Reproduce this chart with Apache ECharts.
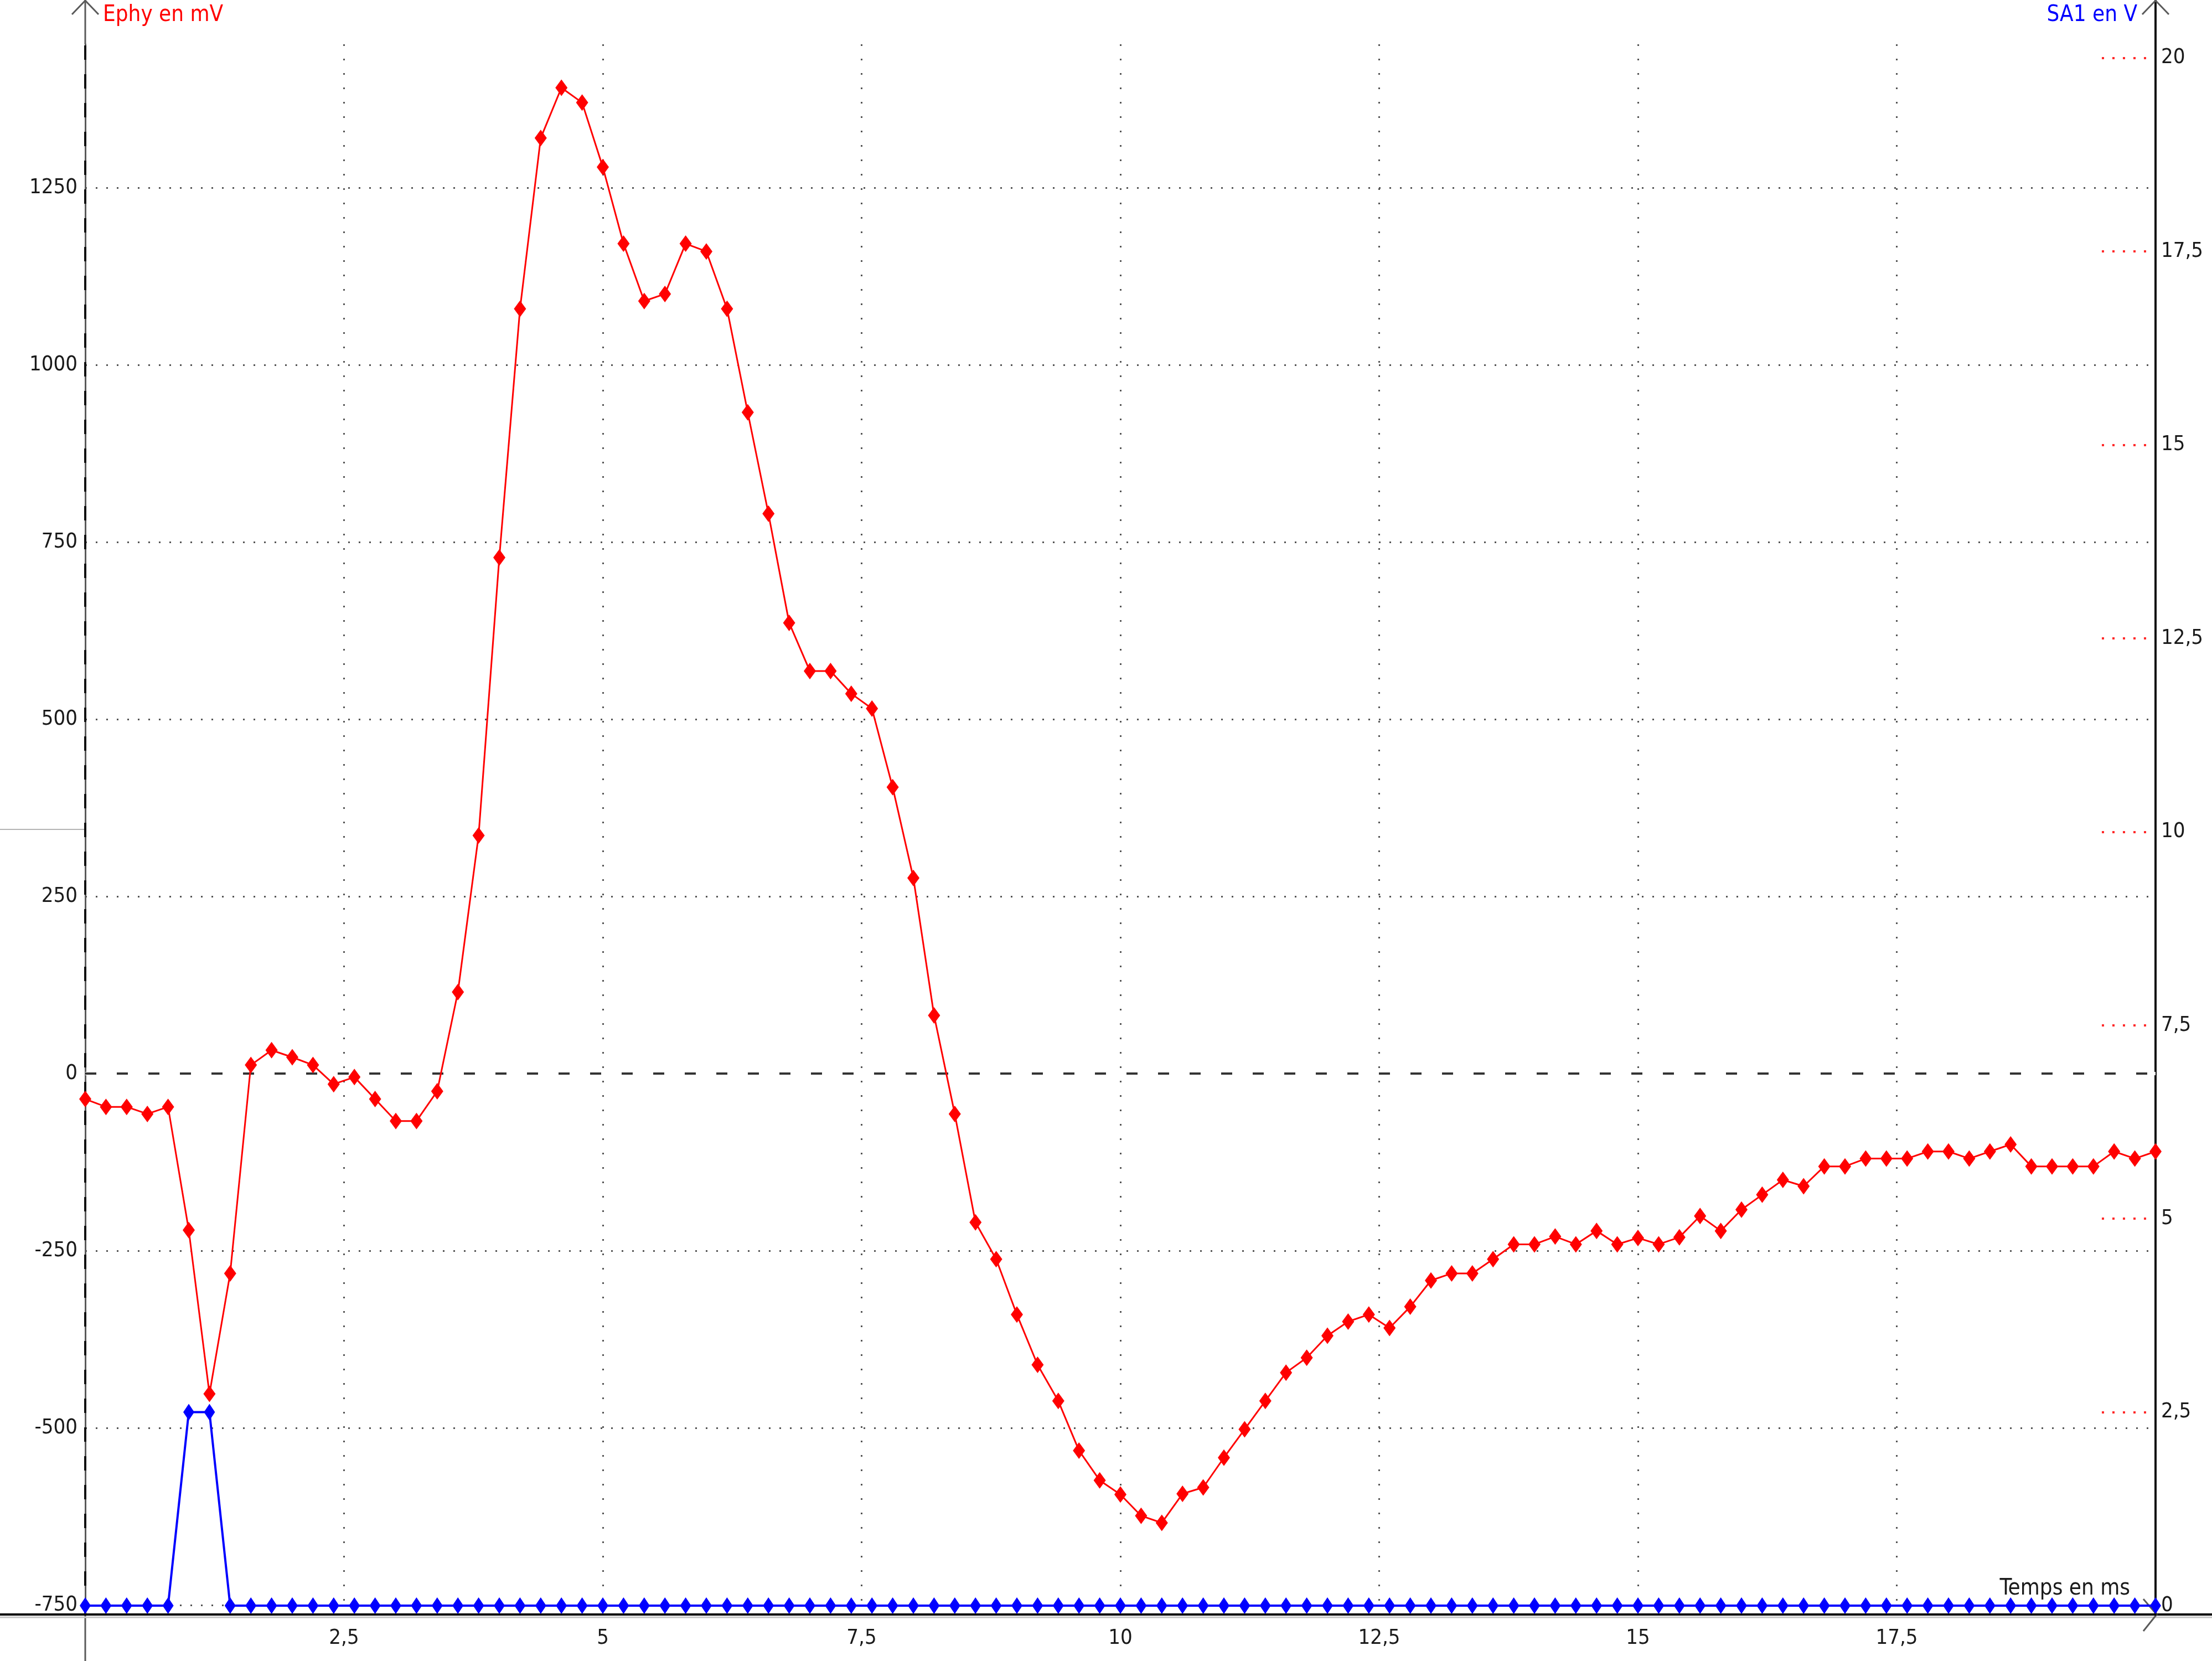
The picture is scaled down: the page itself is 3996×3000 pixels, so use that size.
<!DOCTYPE html>
<html>
<head>
<meta charset="utf-8">
<script src="https://cdn.jsdelivr.net/npm/echarts@6/dist/echarts.min.js"></script>
<style>
html,body{margin:0;padding:0;background:#fff;}
#chart{width:3996px;height:3000px;}
</style>
</head>
<body>
<div id="chart"></div>
<script>
// Time in ms (sampling 0.2 ms)
const times = [0,0.2,0.4,0.6,0.8,1,1.2,1.4,1.6,1.8,2,2.2,2.4,2.6,2.8,3,3.2,3.4,3.6,3.8,
  4,4.2,4.4,4.6,4.8,5,5.2,5.4,5.6,5.8,6,6.2,6.4,6.6,6.8,7,7.2,7.4,7.6,7.8,
  8,8.2,8.4,8.6,8.8,9,9.2,9.4,9.6,9.8,10,10.2,10.4,10.6,10.8,11,11.2,11.4,11.6,11.8,
  12,12.2,12.4,12.6,12.8,13,13.2,13.4,13.6,13.8,14,14.2,14.4,14.6,14.8,15,15.2,15.4,15.6,15.8,
  16,16.2,16.4,16.6,16.8,17,17.2,17.4,17.6,17.8,18,18.2,18.4,18.6,18.8,19,19.2,19.4,19.6,19.8,20];

// Ephy en mV
const ephy = [-36,-47,-47,-57,-47,-221,-452,-282,12,33,23,12,-15,-5,-36,-67,-67,-25,115,336,
  728,1079,1320,1391,1370,1279,1171,1090,1100,1171,1160,1079,933,790,636,568,568,536,515,404,
  276,82,-57,-210,-262,-340,-411,-462,-532,-574,-594,-624,-634,-593,-584,-542,-502,-462,-422,-401,
  -370,-350,-340,-359,-329,-292,-282,-282,-262,-241,-241,-230,-241,-222,-241,-232,-241,-231,-201,-222,
  -192,-171,-150,-159,-131,-131,-120,-120,-120,-110,-110,-120,-110,-100,-131,-131,-131,-131,-110,-120,-110];

// SA1 en V
const sa1 = [0,0,0,0,0,2.5,2.5,0,0,0,0,0,0,0,0,0,0,0,0,0,
  0,0,0,0,0,0,0,0,0,0,0,0,0,0,0,0,0,0,0,0,
  0,0,0,0,0,0,0,0,0,0,0,0,0,0,0,0,0,0,0,0,
  0,0,0,0,0,0,0,0,0,0,0,0,0,0,0,0,0,0,0,0,
  0,0,0,0,0,0,0,0,0,0,0,0,0,0,0,0,0,0,0,0,0];

const leftTicks = [-750,-500,-250,0,250,500,750,1000,1250];
const rightTicks = [0,2.5,5,7.5,10,12.5,15,17.5,20];
const xLabelTicks = [2.5,5,7.5,10,12.5,15,17.5];

const FONT = "'DejaVu Sans Condensed','DejaVu Sans',sans-serif";
const comma = v => String(v).replace('.', ',');
const plain = v => String(v);

const chart = echarts.init(document.getElementById('chart'), null, {renderer:'canvas'});

const option = {
  animation: false,
  backgroundColor: '#ffffff',
  textStyle: {fontFamily: FONT},
  title: [
    {text:'Ephy en mV', left:186, top:6, padding:0,
     textStyle:{color:'#ff0000', fontSize:40, fontWeight:'normal', fontFamily:FONT, lineHeight:44}},
    {text:'SA1 en V', right:135, top:6, padding:0,
     textStyle:{color:'#0000ff', fontSize:40, fontWeight:'normal', fontFamily:FONT, lineHeight:44}},
    {text:'Temps en ms', right:148, top:2848, padding:0,
     textStyle:{color:'#1a1a1a', fontSize:40, fontWeight:'normal', fontFamily:FONT, lineHeight:44}}
  ],
  grid: {left:154, right:102, top:80, bottom:84, containLabel:false},
  xAxis: {
    type:'value', min:0, max:20, interval:2.5,
    axisLine:{show:true, onZero:false, lineStyle:{color:'#000000', width:4}},
    axisTick:{show:false},
    axisLabel:{show:true, fontSize:38, color:'#1a1a1a', margin:24, fontFamily:FONT,
      customValues: xLabelTicks, formatter: comma},
    splitLine:{show:true, showMinLine:false, showMaxLine:false,
      lineStyle:{color:'#555555', width:3, type:[3,23]}}
  },
  yAxis: [
    {
      type:'value', position:'left', min:-763.3, max:1452.3,
      axisLine:{show:true, onZero:false, lineStyle:{color:'#5a5a5a', width:3}},
      axisTick:{show:false, customValues:leftTicks},
      axisLabel:{show:true, customValues:leftTicks, fontSize:38, color:'#1a1a1a', margin:14, fontFamily:FONT,
        formatter: plain},
      splitLine:{show:true, lineStyle:{color:'#555555', width:3, type:[3,16]}}
    },
    {
      type:'value', position:'right', min:-0.114, max:20.175,
      axisLine:{show:true, onZero:false, lineStyle:{color:'#111111', width:4}},
      axisTick:{show:true, inside:true, length:98, customValues:rightTicks,
        lineStyle:{color:'#ff2a2a', width:4, type:[0.01,17,4,15,4,15,4,15,4,15,4,60]}},
      axisLabel:{show:true, customValues:rightTicks, fontSize:38, color:'#1a1a1a', margin:10, fontFamily:FONT,
        formatter: comma},
      splitLine:{show:false}
    }
  ],
  series: [
    {
      name:'SA1 en V', type:'line', yAxisIndex:1, xAxisIndex:0,
      data: times.map((t,i)=>[t, sa1[i]]),
      symbol:'diamond', symbolSize:[20,30],
      lineStyle:{color:'#0000ff', width:4},
      itemStyle:{color:'#0000ff'},
      z:3, silent:true
    },
    {
      name:'Ephy en mV', type:'line', yAxisIndex:0, xAxisIndex:0,
      data: times.map((t,i)=>[t, ephy[i]]),
      symbol:'diamond', symbolSize:[22,30],
      lineStyle:{color:'#ff0000', width:3},
      itemStyle:{color:'#ff0000'},
      z:4, silent:true,
      markLine:{
        silent:true, symbol:'none', z:1,
        label:{show:false},
        data:[
          {yAxis:0, lineStyle:{color:'#ffffff', width:6, type:'solid'}},
          {yAxis:0, lineStyle:{color:'#333333', width:4, type:[20,37]}},
          {xAxis:0, lineStyle:{color:'#111111', width:4, type:[26,26]}}
        ]
      }
    }
  ],
  graphic: [
    {type:'line', silent:true, shape:{x1:154,y1:0,x2:154,y2:80}, style:{stroke:'#5a5a5a', lineWidth:3}},
    {type:'line', silent:true, shape:{x1:154,y1:2916,x2:154,y2:3000}, style:{stroke:'#5a5a5a', lineWidth:3}},
    {type:'line', silent:true, shape:{x1:3894,y1:0,x2:3894,y2:80}, style:{stroke:'#111111', lineWidth:4}},
    {type:'line', silent:true, shape:{x1:0,y1:2916,x2:154,y2:2916}, style:{stroke:'#000000', lineWidth:4}},
    {type:'line', silent:true, shape:{x1:3894,y1:2916,x2:3996,y2:2916}, style:{stroke:'#000000', lineWidth:4}},
    {type:'line', silent:true, shape:{x1:0,y1:2921,x2:3996,y2:2921}, style:{stroke:'#c4c4c4', lineWidth:3}},
    {type:'line', silent:true, shape:{x1:0,y1:1498,x2:152,y2:1498}, style:{stroke:'#b4b4b4', lineWidth:2}},
    {type:'polyline', silent:true, shape:{points:[[130,26],[154,1],[178,26]]}, style:{stroke:'#5a5a5a', lineWidth:3, fill:null}},
    {type:'polyline', silent:true, shape:{points:[[3870,26],[3894,1],[3918,26]]}, style:{stroke:'#5a5a5a', lineWidth:3, fill:null}},
    {type:'polyline', silent:true, shape:{points:[[3872,2888],[3896,2916],[3872,2946]]}, style:{stroke:'#5a5a5a', lineWidth:3, fill:null}}
  ]
};
chart.setOption(option);
</script>
</body>
</html>
